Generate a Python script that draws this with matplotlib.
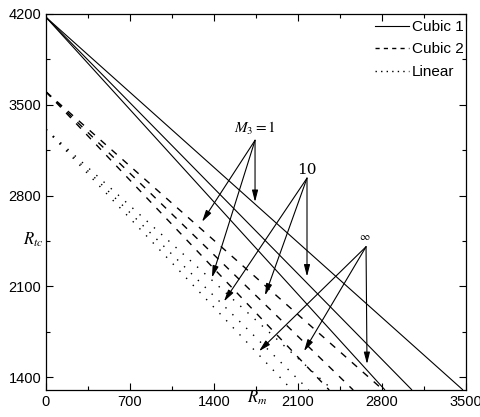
import matplotlib
matplotlib.use("Agg")
import matplotlib.pyplot as plt
from matplotlib.lines import Line2D
from matplotlib.ticker import MultipleLocator

plt.rcParams['font.family'] = ['Liberation Sans', 'DejaVu Sans']
plt.rcParams['mathtext.fontset'] = 'stix'
plt.rcParams['lines.scale_dashes'] = False

# ---- data ----
y_bottom = 1300
cubic1_start = 4175
cubic1_end_x = [3475, 3050, 2825]
cubic2_start = 3600
cubic2_end_x = [2810, 2560, 2360]
linear_start = 3310
linear_end_x = [2390, 2190, 2050]

x_ticks = [0, 700, 1400, 2100, 2800, 3500]
y_ticks = [1400, 2100, 2800, 3500, 4200]

# annotation labels, origins and arrow tips (data coordinates)
ann_labels = [r"$M_3=1$", "10", r"$\infty$"]
ann_origins = [(1742, 3226), (2175, 2934), (2667, 2405)]
ann_tips = [
    [(1300, 2597), (1383, 2167), (1742, 2750)],
    [(1483, 1983), (1825, 2029), (2175, 2175)],
    [(1775, 1599), (2150, 1599), (2675, 1500)],
]
ann_text_pos = [(1742, 3318), (2175, 2996), (2658, 2482)]
ann_sizes = [11, 11, 8]

W, H = 481, 417
fig = plt.figure(figsize=(W / 100, H / 100), dpi=100)
ax = fig.add_axes([46 / W, 1 - 390 / H, 420 / W, 376 / H])

lw = 0.8
for ex in cubic1_end_x:
    ax.plot([0, ex], [cubic1_start, y_bottom], color='black', lw=lw, solid_capstyle='butt')
for ex in cubic2_end_x:
    ax.plot([0, ex], [cubic2_start, y_bottom], color='black', lw=1.0, dashes=(5, 5.5))
for ex in linear_end_x:
    ax.plot([0, ex], [linear_start, y_bottom], color='black', lw=1.0, dashes=(1, 6))

ax.set_xlim(0, 3500)
ax.set_ylim(1300, 4200)
ax.set_xticks(x_ticks)
ax.set_yticks(y_ticks)
ax.xaxis.set_minor_locator(MultipleLocator(350))
ax.yaxis.set_minor_locator(MultipleLocator(350))
ax.tick_params(which='both', direction='in', top=True, right=True, labelsize=10.5, width=0.8)
ax.tick_params(which='major', length=5)
ax.tick_params(which='minor', length=3)
for s in ax.spines.values():
    s.set_linewidth(0.9)

for lab, org, tips, tp, fs in zip(ann_labels, ann_origins, ann_tips, ann_text_pos, ann_sizes):
    ax.text(tp[0], tp[1], lab, ha='center', va='center', fontsize=fs, fontfamily='serif')
    for t in tips:
        ax.annotate('', xy=t, xytext=org,
                    arrowprops=dict(arrowstyle='-|>,head_length=0.7,head_width=0.18',
                                    color='black', lw=0.8, shrinkA=0, shrinkB=0))

handles = [Line2D([], [], color='black', lw=0.8),
           Line2D([], [], color='black', lw=1.0, dashes=(3, 3)),
           Line2D([], [], color='black', lw=1.0, dashes=(1, 3))]
leg = ax.legend(handles, ['Cubic 1', 'Cubic 2', 'Linear'], loc='upper right', frameon=False,
                fontsize=11, handlelength=2.2, handletextpad=0.2, labelspacing=0.55,
                borderaxespad=0.0, borderpad=0.15, bbox_to_anchor=(1.0, 0.99))
leg.set_zorder(5)

fig.text(257 / W, 1 - 398 / H, r"$R_m$", fontsize=12, ha='center', va='center')
fig.text(33 / W, 1 - 240 / H, r"$R_{tc}$", fontsize=12, ha='center', va='center')

fig.savefig('out.png', dpi=100)
